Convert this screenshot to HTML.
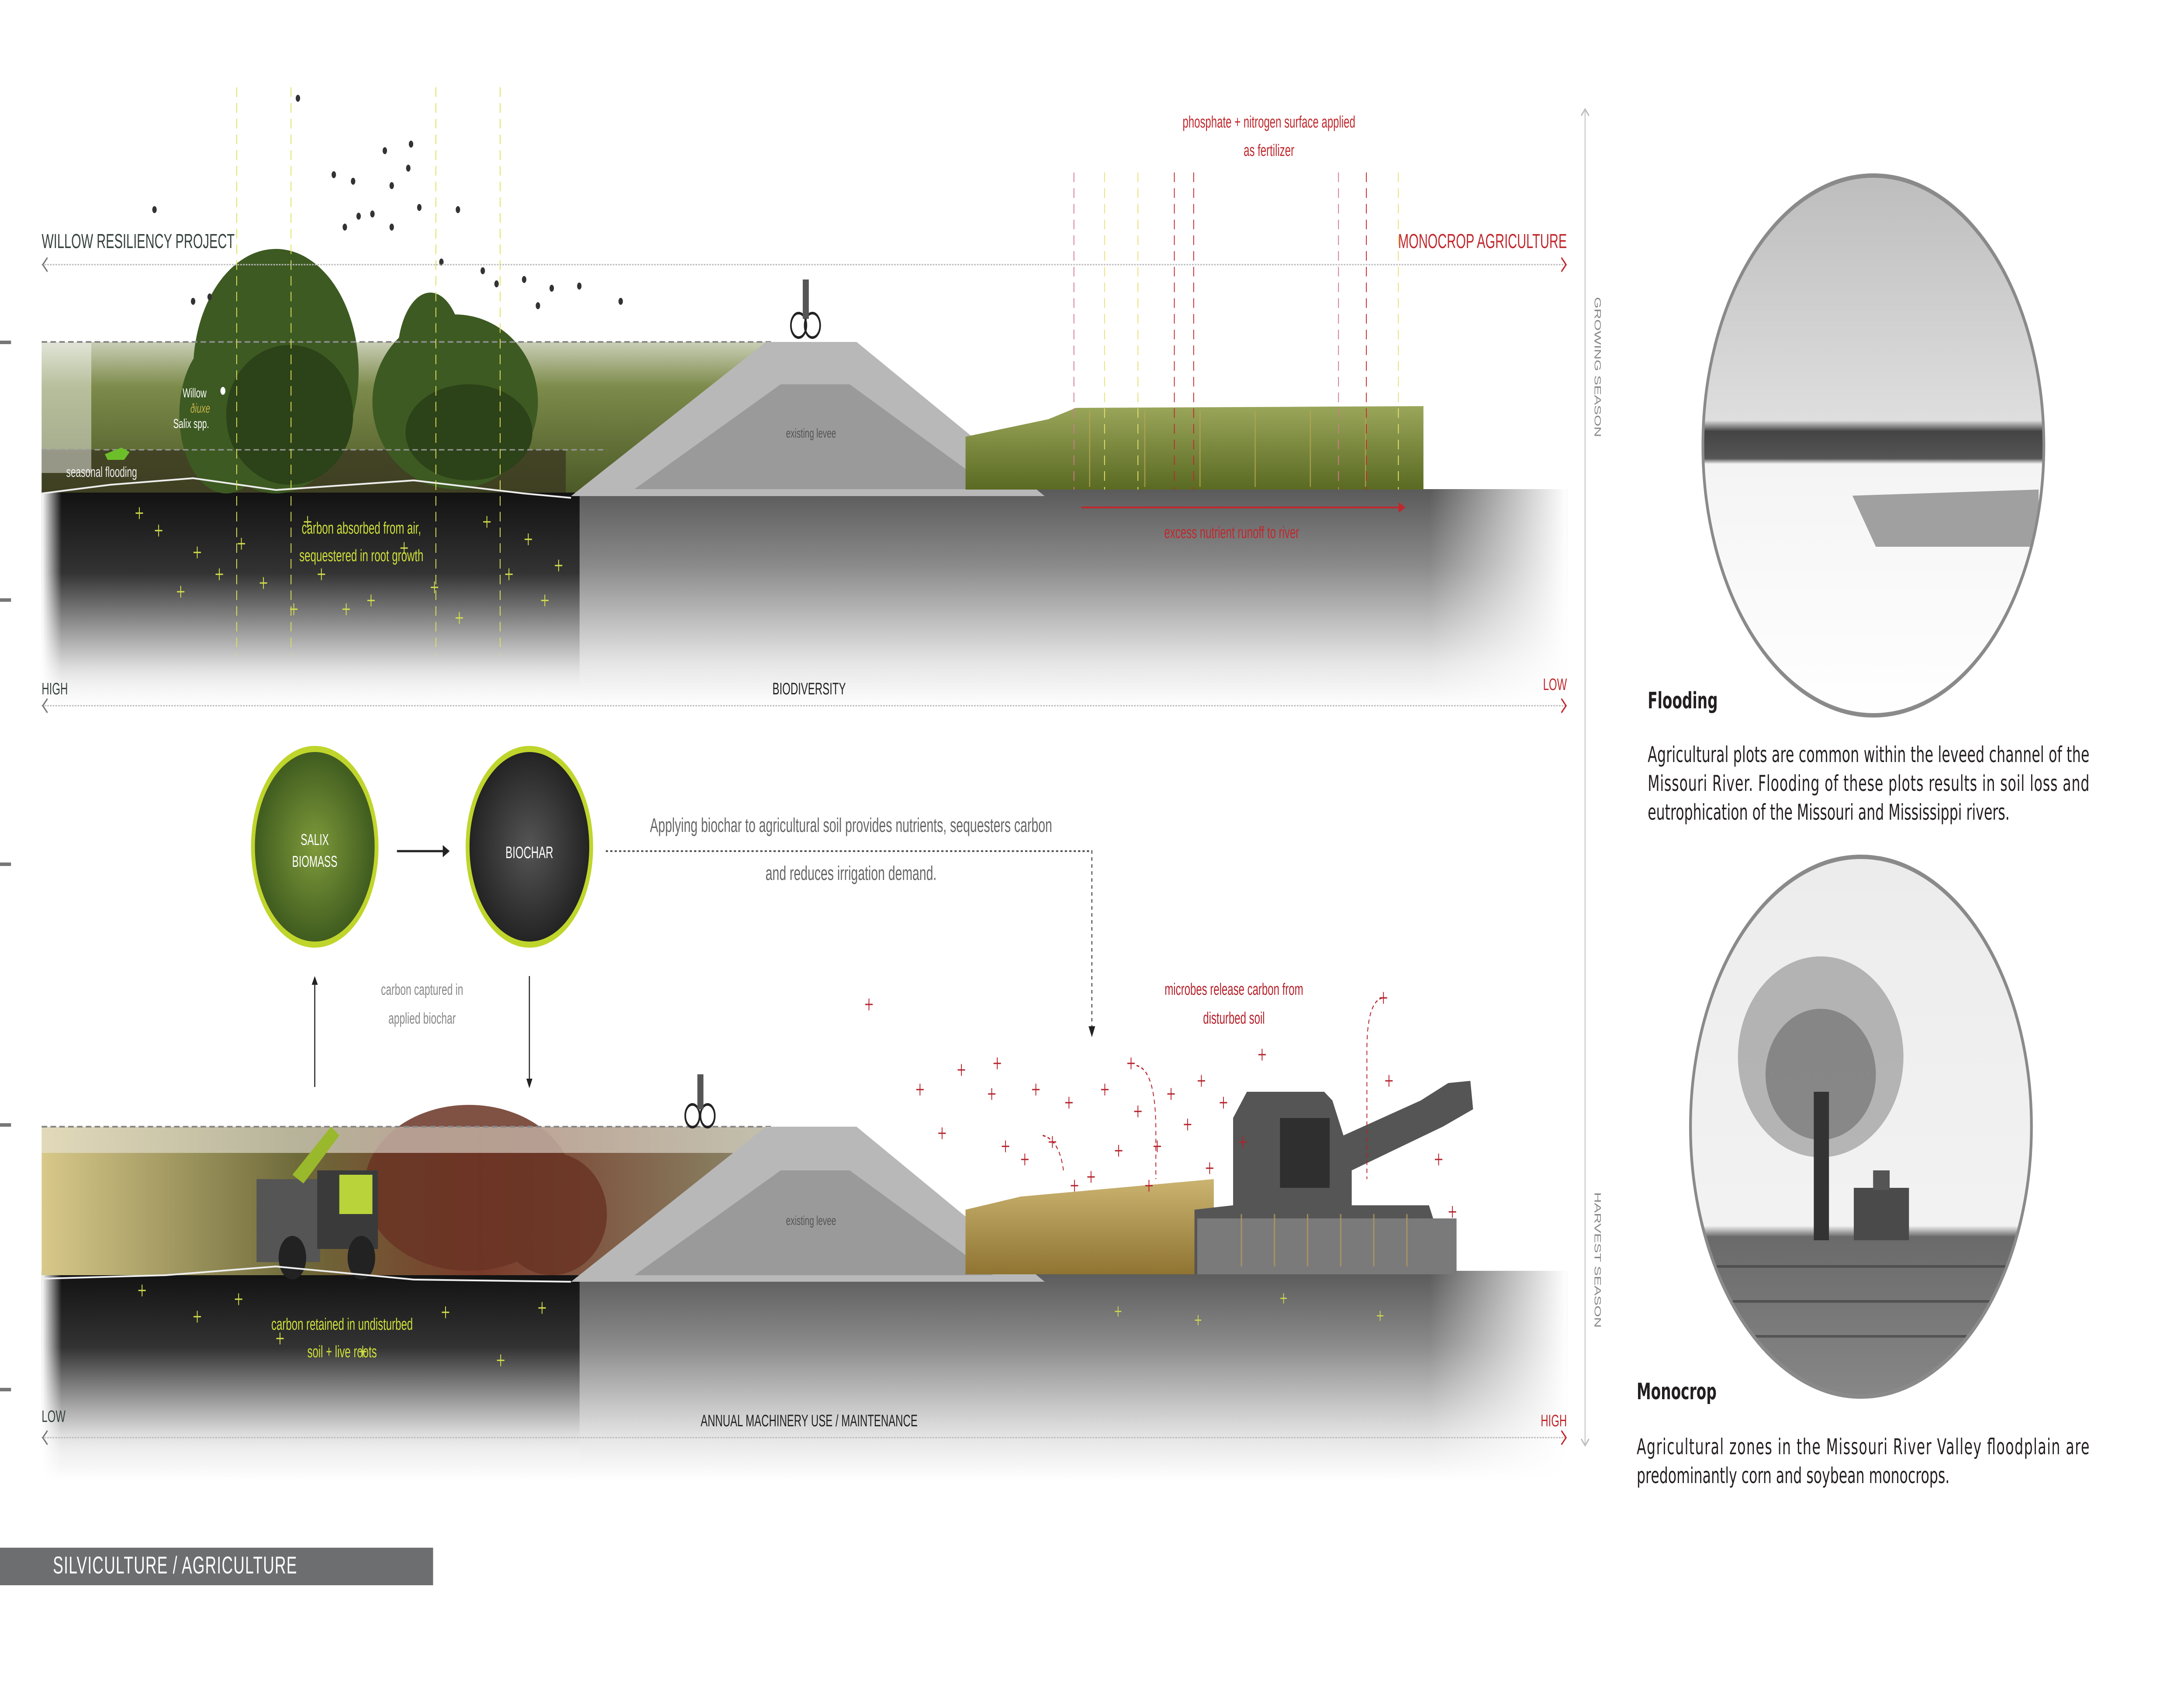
<!DOCTYPE html>
<html><head><meta charset="utf-8">
<style>
html,body{margin:0;padding:0;background:#fff;width:100%;height:100%;overflow:hidden;}
svg{position:absolute;left:0;top:0;width:100vw;height:100vh;display:block;}
</style></head>
<body>
<svg viewBox="0 0 7917 3863" preserveAspectRatio="none" xmlns="http://www.w3.org/2000/svg" font-family="Liberation Sans, sans-serif">
<defs>
<linearGradient id="soil" x1="0" y1="0" x2="0" y2="1">
<stop offset="0" stop-color="#5a5a5a"/><stop offset="0.35" stop-color="#8a8a8a"/><stop offset="0.8" stop-color="#e6e6e6"/><stop offset="1" stop-color="#fff"/>
</linearGradient>
<linearGradient id="soilDark" x1="0" y1="0" x2="0" y2="1">
<stop offset="0" stop-color="#111"/><stop offset="0.4" stop-color="#333"/><stop offset="0.85" stop-color="#ddd"/><stop offset="1" stop-color="#fff" stop-opacity="0"/>
</linearGradient>
<linearGradient id="fadeL" x1="0" y1="0" x2="1" y2="0">
<stop offset="0" stop-color="#fff" stop-opacity="1"/><stop offset="0.12" stop-color="#fff" stop-opacity="0"/>
</linearGradient>
<linearGradient id="fadeR" x1="0" y1="0" x2="1" y2="0">
<stop offset="0" stop-color="#fff" stop-opacity="0"/><stop offset="1" stop-color="#fff" stop-opacity="1"/>
</linearGradient>
<linearGradient id="grass" x1="0" y1="0" x2="0" y2="1">
<stop offset="0" stop-color="#c9cfb6"/><stop offset="0.3" stop-color="#7c8a4a"/><stop offset="1" stop-color="#4c5a28"/>
</linearGradient>
<linearGradient id="grassB" x1="0" y1="0" x2="1" y2="0">
<stop offset="0" stop-color="#d8c98a"/><stop offset="0.35" stop-color="#6e6a3a"/><stop offset="0.6" stop-color="#7a3a2a"/><stop offset="1" stop-color="#8a8a6a"/>
</linearGradient>
<linearGradient id="corn" x1="0" y1="0" x2="0" y2="1">
<stop offset="0" stop-color="#9aa65a"/><stop offset="1" stop-color="#5a6a22"/>
</linearGradient>
<linearGradient id="cornB" x1="0" y1="0" x2="0" y2="1">
<stop offset="0" stop-color="#cbb370"/><stop offset="1" stop-color="#8f7432"/>
</linearGradient>
<radialGradient id="salix" cx="0.5" cy="0.5" r="0.5"><stop offset="0" stop-color="#7e9a3a"/><stop offset="1" stop-color="#3e5a1e"/></radialGradient>
<radialGradient id="biochar" cx="0.5" cy="0.5" r="0.5"><stop offset="0" stop-color="#555"/><stop offset="1" stop-color="#222"/></radialGradient>
<linearGradient id="flood" x1="0" y1="0" x2="0" y2="1">
<stop offset="0" stop-color="#bdbdbd"/><stop offset="0.45" stop-color="#dedede"/><stop offset="0.47" stop-color="#444"/><stop offset="0.52" stop-color="#555"/><stop offset="0.53" stop-color="#f4f4f4"/><stop offset="1" stop-color="#fff"/>
</linearGradient>
<linearGradient id="mono" x1="0" y1="0" x2="0" y2="1">
<stop offset="0" stop-color="#ececec"/><stop offset="0.68" stop-color="#f2f2f2"/><stop offset="0.7" stop-color="#6a6a6a"/><stop offset="1" stop-color="#888"/>
</linearGradient>
<symbol id="py" viewBox="0 0 40 40"><path d="M20 2V38M2 20H38" stroke="#d6e04a" stroke-width="4"/></symbol>
<symbol id="pr" viewBox="0 0 40 40"><path d="M20 2V38M2 20H38" stroke="#b5202a" stroke-width="4"/></symbol>
<clipPath id="c1"><circle cx="6791" cy="1020" r="618"/></clipPath>
<clipPath id="c2"><circle cx="6746" cy="2580" r="618"/></clipPath>
</defs>
<rect x="0" y="0" width="7917" height="3863" fill="#fff"/>

<g fill="#777"><rect x="0" y="780" width="40" height="8"/><rect x="0" y="1370" width="40" height="8"/><rect x="0" y="1975" width="40" height="8"/><rect x="0" y="2572" width="40" height="8"/><rect x="0" y="3178" width="40" height="8"/></g>

<!-- TOP SECTION -->
<rect x="151" y="1120" width="5530" height="500" fill="url(#soil)"/>
<rect x="151" y="1120" width="1950" height="480" fill="url(#soilDark)"/>
<rect x="151" y="1100" width="600" height="600" fill="url(#fadeL)"/>
<rect x="5181" y="1100" width="500" height="520" fill="url(#fadeR)"/>
<rect x="151" y="783" width="2650" height="345" fill="url(#grass)"/>
<rect x="151" y="1030" width="1900" height="98" fill="#3c3a22" opacity="0.8"/>
<g fill="#3d5a22">
<ellipse cx="1000" cy="850" rx="300" ry="280"/><ellipse cx="820" cy="950" rx="170" ry="180"/>
<ellipse cx="1650" cy="920" rx="300" ry="200"/><ellipse cx="1560" cy="820" rx="120" ry="150"/>
</g>
<g fill="#2c4218"><ellipse cx="1050" cy="950" rx="230" ry="160"/><ellipse cx="1700" cy="990" rx="230" ry="110"/></g>
<rect x="151" y="783" width="180" height="300" fill="#fff" opacity="0.45"/>
<line x1="151" y1="783" x2="2800" y2="783" stroke="#888" stroke-width="4" stroke-dasharray="20 12"/>
<line x1="151" y1="1030" x2="2200" y2="1030" stroke="#999" stroke-width="3" stroke-dasharray="20 12"/>
<path d="M151 1130 L400 1110 L700 1095 L1000 1122 L1500 1100 L1900 1130 L2070 1140" stroke="#eee" stroke-width="4" fill="none"/>
<text x="240" y="1092" font-size="33" fill="#eee">seasonal flooding</text>
<text x="662" y="910" font-size="30" fill="#fff">Willow</text>
<text x="690" y="945" font-size="30" fill="#c8b34a" font-style="italic">ðiuxe</text>
<text x="628" y="980" font-size="30" fill="#fff">Salix spp.</text>
<circle cx="808" cy="895" r="9" fill="#fff"/>
<path d="M380 1040 l60 -15 l30 10 l-20 18 l-60 0z" fill="#6dbf2a"/>
<polygon points="2070,1136 2777,783 3105,783 3787,1136" fill="#b8b8b8"/>
<polygon points="2300,1120 2830,880 3080,880 3600,1120" fill="#9a9a9a"/>
<text x="2940" y="1002" font-size="30" fill="#555" text-anchor="middle">existing levee</text>
<circle cx="2895" cy="745" r="28" fill="none" stroke="#222" stroke-width="6"/><circle cx="2945" cy="745" r="28" fill="none" stroke="#222" stroke-width="6"/>
<rect x="2910" y="640" width="22" height="90" fill="#555"/>
<path d="M3500 1121 L3500 1000 L3800 960 L3900 934 L5160 930 L5160 1121Z" fill="url(#corn)"/>
<g stroke="#b7a452" stroke-width="4" opacity="0.8">
<line x1="3950" y1="940" x2="3950" y2="1115"/><line x1="4150" y1="940" x2="4150" y2="1115"/><line x1="4350" y1="940" x2="4350" y2="1115"/><line x1="4550" y1="940" x2="4550" y2="1115"/><line x1="4750" y1="940" x2="4750" y2="1115"/><line x1="4950" y1="940" x2="4950" y2="1115"/>
</g>
<line x1="3920" y1="1162" x2="5080" y2="1162" stroke="#c0282d" stroke-width="4"/>
<path d="M5070 1150 L5095 1162 L5070 1174Z" fill="#c0282d"/>
<text x="4465" y="1232" font-size="38" fill="#c0282d" text-anchor="middle">excess nutrient runoff to river</text>
<g stroke-dasharray="22 14" stroke-width="3">
<line x1="858" y1="200" x2="858" y2="1500" stroke="#e0e05a"/>
<line x1="1055" y1="200" x2="1055" y2="1500" stroke="#e0e05a"/>
<line x1="1580" y1="200" x2="1580" y2="1500" stroke="#e0e05a"/>
<line x1="1813" y1="200" x2="1813" y2="1500" stroke="#e0e05a"/>
<line x1="3893" y1="395" x2="3893" y2="1121" stroke="#d07a90"/>
<line x1="4004" y1="395" x2="4004" y2="1121" stroke="#e8e070"/>
<line x1="4125" y1="395" x2="4125" y2="1121" stroke="#e8e070"/>
<line x1="4257" y1="395" x2="4257" y2="1121" stroke="#c0282d"/>
<line x1="4327" y1="395" x2="4327" y2="1121" stroke="#c0282d"/>
<line x1="4852" y1="395" x2="4852" y2="1121" stroke="#d07a90"/>
<line x1="4953" y1="395" x2="4953" y2="1121" stroke="#c0282d"/>
<line x1="5069" y1="395" x2="5069" y2="1121" stroke="#e8e070"/>
</g>
<g fill="#333">
<circle cx="1080" cy="225" r="8"/><circle cx="1210" cy="400" r="8"/><circle cx="1280" cy="415" r="8"/><circle cx="1300" cy="495" r="8"/><circle cx="1395" cy="345" r="8"/><circle cx="1420" cy="425" r="8"/><circle cx="1480" cy="385" r="8"/><circle cx="1520" cy="475" r="8"/><circle cx="1660" cy="480" r="8"/><circle cx="1750" cy="620" r="8"/><circle cx="1900" cy="640" r="8"/><circle cx="2000" cy="660" r="8"/><circle cx="2100" cy="655" r="8"/><circle cx="2250" cy="690" r="8"/><circle cx="560" cy="480" r="8"/><circle cx="700" cy="690" r="8"/><circle cx="760" cy="680" r="8"/><circle cx="1350" cy="490" r="8"/><circle cx="1490" cy="330" r="8"/><circle cx="1600" cy="600" r="8"/><circle cx="1800" cy="650" r="8"/><circle cx="1950" cy="700" r="8"/><circle cx="1420" cy="520" r="8"/><circle cx="1250" cy="520" r="8"/>
</g>
<g>
<use href="#py" x="490" y="1160" width="30" height="30"/><use href="#py" x="560" y="1200" width="30" height="30"/><use href="#py" x="700" y="1250" width="30" height="30"/><use href="#py" x="780" y="1300" width="30" height="30"/><use href="#py" x="860" y="1230" width="30" height="30"/><use href="#py" x="940" y="1320" width="30" height="30"/><use href="#py" x="1050" y="1380" width="30" height="30"/><use href="#py" x="1150" y="1300" width="30" height="30"/><use href="#py" x="1240" y="1380" width="30" height="30"/><use href="#py" x="1330" y="1360" width="30" height="30"/><use href="#py" x="1450" y="1240" width="30" height="30"/><use href="#py" x="1560" y="1330" width="30" height="30"/><use href="#py" x="1650" y="1400" width="30" height="30"/><use href="#py" x="1750" y="1180" width="30" height="30"/><use href="#py" x="1830" y="1300" width="30" height="30"/><use href="#py" x="1900" y="1220" width="30" height="30"/><use href="#py" x="1960" y="1360" width="30" height="30"/><use href="#py" x="2010" y="1280" width="30" height="30"/><use href="#py" x="640" y="1340" width="30" height="30"/><use href="#py" x="1100" y="1180" width="30" height="30"/>
</g>
<text x="1310" y="1222" font-size="38" fill="#cfe03a" text-anchor="middle">carbon absorbed from air,</text>
<text x="1310" y="1285" font-size="38" fill="#cfe03a" text-anchor="middle">sequestered in root growth</text>

<text x="151" y="568" font-size="46" fill="#36423e">WILLOW RESILIENCY PROJECT</text>
<text x="5680" y="568" font-size="46" fill="#c0282d" text-anchor="end">MONOCROP AGRICULTURE</text>
<line x1="151" y1="606" x2="5680" y2="606" stroke="#bbb" stroke-width="3" stroke-dasharray="6 4"/>
<path d="M172 590 L155 606 L172 622" stroke="#777" stroke-width="4" fill="none"/>
<path d="M5660 590 L5677 606 L5660 622" stroke="#c0282d" stroke-width="4" fill="none"/>
<text x="4600" y="292" font-size="38" fill="#c0282d" text-anchor="middle">phosphate + nitrogen surface applied</text>
<text x="4600" y="357" font-size="38" fill="#c0282d" text-anchor="middle">as fertilizer</text>

<text x="151" y="1590" font-size="38" fill="#36423e">HIGH</text>
<text x="2933" y="1590" font-size="38" fill="#222" text-anchor="middle">BIODIVERSITY</text>
<text x="5680" y="1580" font-size="38" fill="#c0282d" text-anchor="end">LOW</text>
<line x1="151" y1="1616" x2="5680" y2="1616" stroke="#bbb" stroke-width="3" stroke-dasharray="6 4"/>
<path d="M172 1600 L155 1616 L172 1632" stroke="#777" stroke-width="4" fill="none"/>
<path d="M5660 1600 L5677 1616 L5660 1632" stroke="#c0282d" stroke-width="4" fill="none"/>

<line x1="5746" y1="252" x2="5746" y2="3307" stroke="#ccc" stroke-width="4"/>
<path d="M5732 265 L5746 250 L5760 265" stroke="#bbb" stroke-width="4" fill="none"/>
<path d="M5732 3295 L5746 3310 L5760 3295" stroke="#bbb" stroke-width="4" fill="none"/>
<text transform="translate(5780,680) rotate(90)" font-size="34" fill="#888">GROWING SEASON</text>
<text transform="translate(5780,2730) rotate(90)" font-size="34" fill="#888">HARVEST SEASON</text>

<!-- MIDDLE -->
<circle cx="1141" cy="1939" r="224" fill="url(#salix)" stroke="#bfd52c" stroke-width="14"/>
<text x="1141" y="1935" font-size="36" fill="#fff" text-anchor="middle">SALIX</text>
<text x="1141" y="1985" font-size="36" fill="#fff" text-anchor="middle">BIOMASS</text>
<circle cx="1919" cy="1939" r="224" fill="url(#biochar)" stroke="#bfd52c" stroke-width="14"/>
<text x="1919" y="1965" font-size="38" fill="#fff" text-anchor="middle">BIOCHAR</text>
<line x1="1439" y1="1949" x2="1610" y2="1949" stroke="#222" stroke-width="5"/>
<path d="M1605 1935 L1630 1949 L1605 1963Z" fill="#222"/>
<text x="3085" y="1905" font-size="45" fill="#666" text-anchor="middle">Applying biochar to agricultural soil provides nutrients, sequesters carbon</text>
<text x="3085" y="2015" font-size="45" fill="#666" text-anchor="middle">and reduces irrigation demand.</text>
<path d="M2196 1949 L3958 1949 L3958 2355" stroke="#555" stroke-width="4" fill="none" stroke-dasharray="8 8"/>
<path d="M3946 2350 L3958 2375 L3970 2350Z" fill="#222"/>
<text x="1530" y="2278" font-size="36" fill="#888" text-anchor="middle">carbon captured in</text>
<text x="1530" y="2344" font-size="36" fill="#888" text-anchor="middle">applied biochar</text>
<line x1="1141" y1="2489" x2="1141" y2="2250" stroke="#222" stroke-width="4"/>
<path d="M1130 2255 L1141 2235 L1152 2255Z" fill="#222"/>
<line x1="1919" y1="2235" x2="1919" y2="2475" stroke="#222" stroke-width="4"/>
<path d="M1908 2470 L1919 2492 L1930 2470Z" fill="#222"/>
<text x="4473" y="2278" font-size="38" fill="#b5202a" text-anchor="middle">microbes release carbon from</text>
<text x="4473" y="2344" font-size="38" fill="#b5202a" text-anchor="middle">disturbed soil</text>

<!-- BOTTOM SECTION -->
<rect x="151" y="2910" width="5530" height="480" fill="url(#soil)"/>
<rect x="151" y="2910" width="1950" height="440" fill="url(#soilDark)"/>
<rect x="151" y="2900" width="600" height="500" fill="url(#fadeL)"/>
<rect x="5181" y="2900" width="500" height="490" fill="url(#fadeR)"/>
<rect x="151" y="2580" width="2650" height="340" fill="url(#grassB)"/>
<g fill="#6a3424" opacity="0.85"><ellipse cx="1700" cy="2720" rx="380" ry="190"/><ellipse cx="2000" cy="2780" rx="200" ry="140"/></g>
<rect x="151" y="2580" width="2650" height="60" fill="#e8e4da" opacity="0.6"/>
<rect x="930" y="2700" width="230" height="190" fill="#555"/>
<rect x="1150" y="2680" width="220" height="180" fill="#3a3a3a"/>
<rect x="1230" y="2690" width="120" height="90" fill="#b8d43a"/>
<circle cx="1060" cy="2880" r="50" fill="#222"/><circle cx="1310" cy="2880" r="50" fill="#222"/>
<path d="M1060 2690 L1200 2580 L1230 2600 L1100 2710Z" fill="#9ab82c"/>
<line x1="151" y1="2580" x2="2800" y2="2580" stroke="#888" stroke-width="4" stroke-dasharray="20 12"/>
<path d="M151 2928 L600 2920 L1000 2900 L1500 2930 L2070 2935" stroke="#eee" stroke-width="4" fill="none"/>
<polygon points="2070,2935 2777,2580 3105,2580 3787,2935" fill="#b8b8b8"/>
<polygon points="2300,2920 2830,2680 3080,2680 3600,2920" fill="#9a9a9a"/>
<text x="2940" y="2805" font-size="30" fill="#555" text-anchor="middle">existing levee</text>
<circle cx="2510" cy="2555" r="26" fill="none" stroke="#222" stroke-width="6"/><circle cx="2565" cy="2555" r="26" fill="none" stroke="#222" stroke-width="6"/>
<rect x="2528" y="2460" width="22" height="80" fill="#555"/>
<path d="M3500 2918 L3500 2770 L3700 2740 L4400 2700 L4400 2918Z" fill="url(#cornB)"/>
<polygon points="4330,2918 4330,2770 4470,2760 4470,2560 4520,2500 4800,2500 4830,2520 4870,2600 5150,2520 5250,2480 5330,2475 5340,2540 5230,2580 4900,2680 4900,2760 5180,2760 5260,2918" fill="#555"/>
<rect x="4640" y="2560" width="180" height="160" fill="#2f2f2f"/>
<rect x="4340" y="2790" width="940" height="128" fill="#7a7a7a"/>
<g stroke="#b09860" stroke-width="5" opacity="0.8"><line x1="4500" y1="2780" x2="4500" y2="2900"/><line x1="4620" y1="2780" x2="4620" y2="2900"/><line x1="4740" y1="2780" x2="4740" y2="2900"/><line x1="4860" y1="2780" x2="4860" y2="2900"/><line x1="4980" y1="2780" x2="4980" y2="2900"/><line x1="5100" y1="2780" x2="5100" y2="2900"/></g>
<g>
<use href="#pr" x="3135" y="2285" width="30" height="30"/><use href="#pr" x="3320" y="2480" width="30" height="30"/><use href="#pr" x="3400" y="2580" width="30" height="30"/><use href="#pr" x="3470" y="2435" width="30" height="30"/><use href="#pr" x="3580" y="2490" width="30" height="30"/><use href="#pr" x="3630" y="2610" width="30" height="30"/><use href="#pr" x="3740" y="2480" width="30" height="30"/><use href="#pr" x="3800" y="2600" width="30" height="30"/><use href="#pr" x="3860" y="2510" width="30" height="30"/><use href="#pr" x="3940" y="2680" width="30" height="30"/><use href="#pr" x="3990" y="2480" width="30" height="30"/><use href="#pr" x="4085" y="2420" width="30" height="30"/><use href="#pr" x="4110" y="2530" width="30" height="30"/><use href="#pr" x="4180" y="2610" width="30" height="30"/><use href="#pr" x="4230" y="2490" width="30" height="30"/><use href="#pr" x="4290" y="2560" width="30" height="30"/><use href="#pr" x="4340" y="2460" width="30" height="30"/><use href="#pr" x="4370" y="2660" width="30" height="30"/><use href="#pr" x="4420" y="2510" width="30" height="30"/><use href="#pr" x="4490" y="2600" width="30" height="30"/><use href="#pr" x="4560" y="2400" width="30" height="30"/><use href="#pr" x="3600" y="2420" width="30" height="30"/><use href="#pr" x="3700" y="2640" width="30" height="30"/><use href="#pr" x="4040" y="2620" width="30" height="30"/><use href="#pr" x="4150" y="2700" width="30" height="30"/><use href="#pr" x="5020" y="2460" width="30" height="30"/><use href="#pr" x="5200" y="2640" width="30" height="30"/><use href="#pr" x="5250" y="2760" width="30" height="30"/><use href="#pr" x="5000" y="2270" width="30" height="30"/><use href="#pr" x="3880" y="2700" width="30" height="30"/>
</g>
<path d="M4120 2440 q70 10 70 150 L4190 2700" stroke="#b5202a" stroke-width="3" fill="none" stroke-dasharray="10 8"/>
<path d="M5010 2285 q-55 10 -55 120 L4955 2700" stroke="#b5202a" stroke-width="3" fill="none" stroke-dasharray="10 8"/>
<path d="M3780 2600 q60 10 75 80" stroke="#b5202a" stroke-width="3" fill="none" stroke-dasharray="10 8"/>
<g>
<use href="#py" x="500" y="2940" width="30" height="30"/><use href="#py" x="700" y="3000" width="30" height="30"/><use href="#py" x="850" y="2960" width="30" height="30"/><use href="#py" x="1000" y="3050" width="30" height="30"/><use href="#py" x="1300" y="3080" width="30" height="30"/><use href="#py" x="1600" y="2990" width="30" height="30"/><use href="#py" x="1800" y="3100" width="30" height="30"/><use href="#py" x="1950" y="2980" width="30" height="30"/><use href="#py" x="4040" y="2990" width="26" height="26"/><use href="#py" x="4330" y="3010" width="26" height="26"/><use href="#py" x="4640" y="2960" width="26" height="26"/><use href="#py" x="4990" y="3000" width="26" height="26"/>
</g>
<text x="1240" y="3045" font-size="38" fill="#cfe03a" text-anchor="middle">carbon retained in undisturbed</text>
<text x="1240" y="3108" font-size="38" fill="#cfe03a" text-anchor="middle">soil + live roots</text>

<text x="151" y="3256" font-size="38" fill="#36423e">LOW</text>
<text x="2933" y="3266" font-size="38" fill="#222" text-anchor="middle">ANNUAL MACHINERY USE / MAINTENANCE</text>
<text x="5680" y="3266" font-size="38" fill="#c0282d" text-anchor="end">HIGH</text>
<line x1="151" y1="3292" x2="5680" y2="3292" stroke="#bbb" stroke-width="3" stroke-dasharray="6 4"/>
<path d="M172 3276 L155 3292 L172 3308" stroke="#777" stroke-width="4" fill="none"/>
<path d="M5660 3276 L5677 3292 L5660 3308" stroke="#c0282d" stroke-width="4" fill="none"/>

<rect x="0" y="3544" width="1570" height="86" fill="#6d6e70"/>
<text x="192" y="3603" font-size="56" fill="#fff" letter-spacing="2">SILVICULTURE / AGRICULTURE</text>

<!-- right photos -->
<g clip-path="url(#c1)">
<rect x="6150" y="400" width="1300" height="1250" fill="url(#flood)"/>
<polygon points="6715,1135 7390,1121 7390,1252 6800,1252" fill="#a0a0a0"/>
</g>
<circle cx="6791" cy="1020" r="618" fill="none" stroke="#8a8a8a" stroke-width="10"/>
<g clip-path="url(#c2)">
<rect x="6100" y="1950" width="1300" height="1260" fill="url(#mono)"/>
<ellipse cx="6600" cy="2420" rx="300" ry="230" fill="#444" opacity="0.35"/>
<ellipse cx="6600" cy="2460" rx="200" ry="150" fill="#333" opacity="0.35"/>
<rect x="6575" y="2500" width="55" height="340" fill="#333"/>
<rect x="6720" y="2720" width="200" height="120" fill="#4a4a4a"/>
<rect x="6790" y="2680" width="60" height="45" fill="#555"/>
<g stroke="#444" stroke-width="6" opacity="0.7"><line x1="6200" y1="2900" x2="7300" y2="2900"/><line x1="6200" y1="2980" x2="7300" y2="2980"/><line x1="6200" y1="3060" x2="7300" y2="3060"/></g>
</g>
<circle cx="6746" cy="2580" r="618" fill="none" stroke="#8a8a8a" stroke-width="10"/>

<g font-family="DejaVu Sans, Liberation Sans, sans-serif" fill="#231f20">
<text x="5973" y="1622" font-size="52" font-weight="bold">Flooding</text>
<text x="5973" y="1745" font-size="50" textLength="1601" lengthAdjust="spacing">Agricultural plots are common within the leveed channel of the</text>
<text x="5973" y="1811" font-size="50" textLength="1601" lengthAdjust="spacing">Missouri River. Flooding of these plots results in soil loss and</text>
<text x="5973" y="1877" font-size="50">eutrophication of the Missouri and Mississippi rivers.</text>
<text x="5933" y="3204" font-size="52" font-weight="bold">Monocrop</text>
<text x="5933" y="3330" font-size="50" textLength="1641" lengthAdjust="spacing">Agricultural zones in the Missouri River Valley floodplain are</text>
<text x="5933" y="3396" font-size="50">predominantly corn and soybean monocrops.</text>
</g>
</svg>
</body></html>
